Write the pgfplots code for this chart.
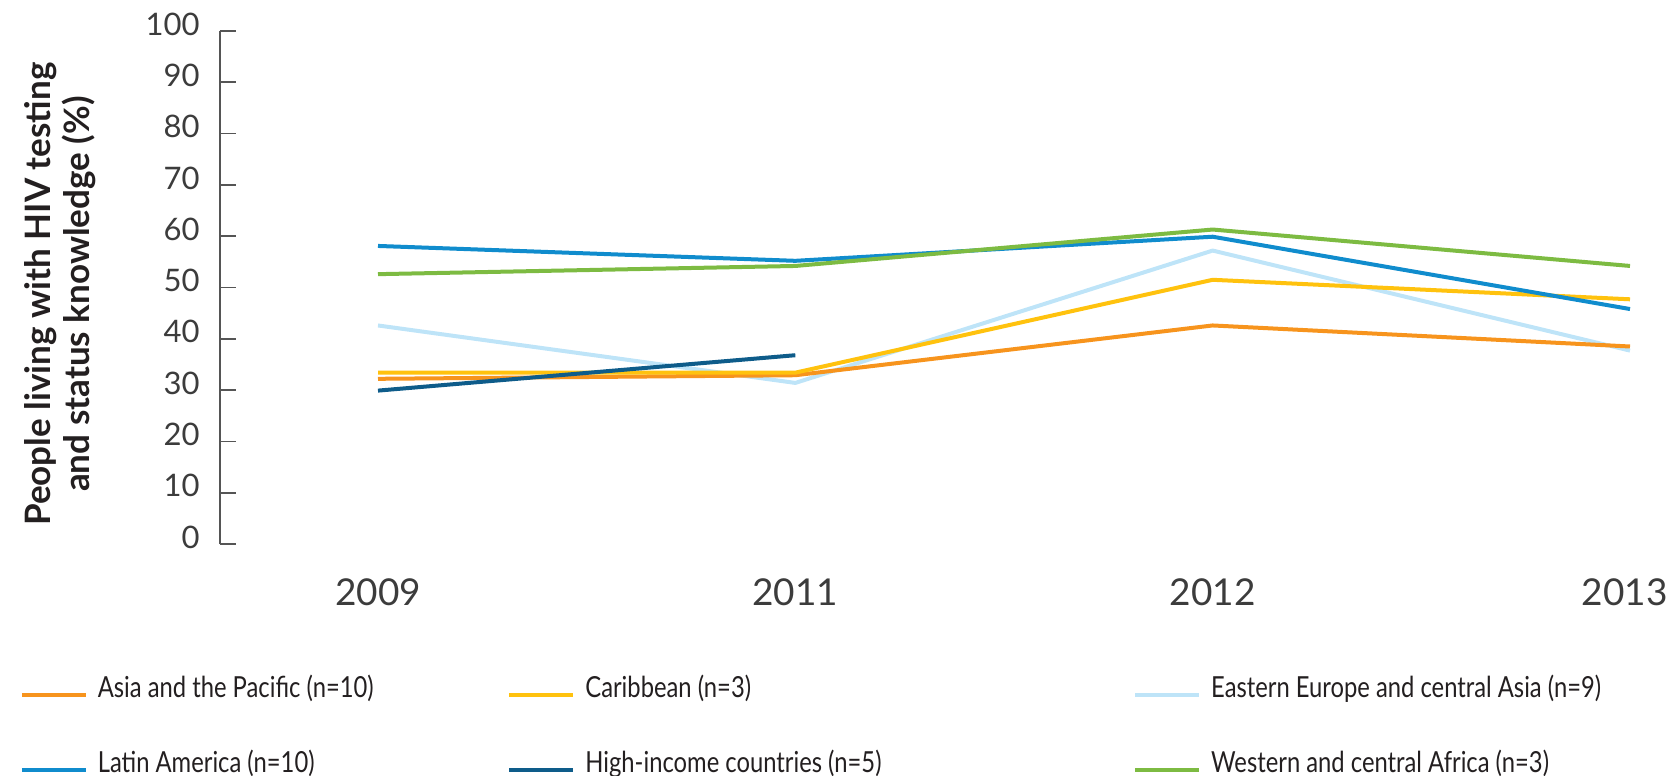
\documentclass[border=0pt]{standalone}
\usepackage{fontspec}
\setmainfont{Lato}
\newfontfamily\legfont[FakeStretch=0.82]{Lato}
\usepackage{pgfplots}
\pgfplotsset{compat=1.18}
\definecolor{cAsia}{RGB}{247,148,29}
\definecolor{cCarib}{RGB}{255,194,14}
\definecolor{cEECA}{RGB}{190,228,248}
\definecolor{cLatAm}{RGB}{16,140,205}
\definecolor{cHigh}{RGB}{14,92,138}
\definecolor{cWCA}{RGB}{125,187,66}
\definecolor{axisgray}{RGB}{85,85,85}
\definecolor{tickgray}{RGB}{60,60,60}
\definecolor{labtext}{RGB}{35,31,32}
\begin{document}
\begin{tikzpicture}
\useasboundingbox (-110pt,-116pt) rectangle (725.5pt,272pt);
\begin{axis}[
  at={(0,0)}, anchor=south west,
  scale only axis, width=705pt, height=256.5pt,
  xmin=-0.3786, xmax=3, ymin=0, ymax=100,
  clip=false,
  axis y line*=left, axis x line*=bottom,
  x axis line style={draw=none},
  y axis line style={draw=axisgray, line width=0.8pt},
  xtick={0,1,2,3}, xticklabels={2009,2011,2012,{\hspace*{-5.4pt}2013}},
  x tick style={draw=none},
  xtick align=inside, ytick align=inside,
  ytick={0,10,...,100},
  y tick style={draw=axisgray, line width=0.8pt},
  major tick length=8pt,
  /pgf/number format/assume math mode=true,
  yticklabel style={font=\fontsize{15.5}{18}\selectfont, text=tickgray, anchor=east, inner sep=0pt, xshift=-10pt, yshift=3.5pt},
  xticklabel style={font=\fontsize{18.5}{22}\selectfont, text=tickgray, anchor=center, inner sep=0pt, yshift=-24pt},
  ylabel={People living with HIV testing\\and status knowledge (\%)},
  ylabel style={at={(axis description cs:-0.1135,0.487)}, anchor=center, align=center, font=\bfseries\fontsize{17.5}{19.5}\selectfont, text=labtext},
  legend columns=3,
  legend cell align=left,
  legend image code/.code={\draw[#1] (0pt,-3pt) -- (32pt,-3pt);},
  legend style={draw=none, fill=none, at={(axis description cs:-0.1420,-0.2515)}, anchor=north west,
    inner sep=0pt, outer sep=0pt, row sep=21.6pt,
    font=\legfont\fontsize{14.5}{17}\selectfont, text=labtext,
    nodes={inner sep=0pt, text height=12pt, text depth=4pt},
    /tikz/every odd column/.append style={column sep=5pt},
    /tikz/every even column/.append style={column sep=7pt}},
]
% data lines (draw order chosen to match overlaps)
\addplot[cEECA, line width=2pt, line join=round, forget plot] coordinates {(0,42.6) (1,31.4) (2,57.2) (3,37.7)};
\addplot[cAsia, line width=2pt, line join=round, forget plot] coordinates {(0,32.2) (1,32.9) (2,42.6) (3,38.5)};
\addplot[cCarib, line width=2pt, line join=round, forget plot] coordinates {(0,33.4) (1,33.4) (2,51.5) (3,47.7)};
\addplot[cHigh, line width=2pt, line join=round, forget plot] coordinates {(0,29.9) (1,36.8)};
\addplot[cLatAm, line width=2pt, line join=round, forget plot] coordinates {(0,58.1) (1,55.2) (2,59.9) (3,45.8)};
\addplot[cWCA, line width=2pt, line join=round, forget plot] coordinates {(0,52.6) (1,54.2) (2,61.3) (3,54.2)};
% legend
\addlegendimage{cAsia, line width=2pt}
\addlegendentry{\makebox[197.8pt][l]{Asia and the Pacific (n=10)}}
\addlegendimage{cCarib, line width=2pt}
\addlegendentry{\makebox[266.9pt][l]{Caribbean (n=3)}}
\addlegendimage{cEECA, line width=2pt}
\addlegendentry{Eastern Europe and central Asia (n=9)}
\addlegendimage{cLatAm, line width=2pt}
\addlegendentry{\makebox[197.8pt][l]{Latin America (n=10)}}
\addlegendimage{cHigh, line width=2pt}
\addlegendentry{\makebox[266.9pt][l]{High-income countries (n=5)}}
\addlegendimage{cWCA, line width=2pt}
\addlegendentry{Western and central Africa (n=3)}
\end{axis}
\end{tikzpicture}
\end{document}
